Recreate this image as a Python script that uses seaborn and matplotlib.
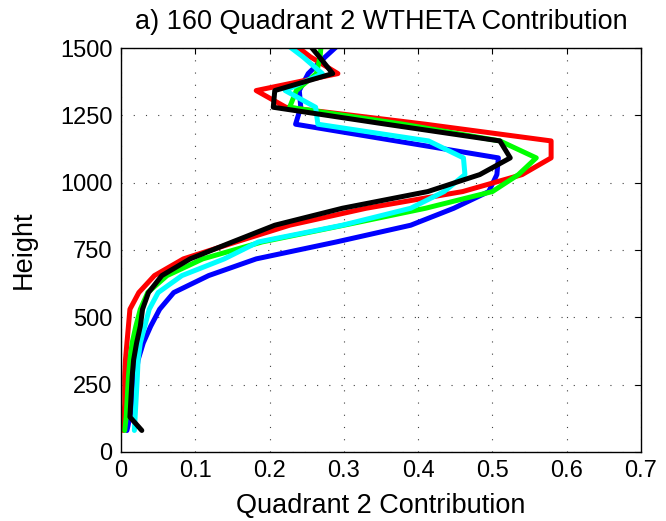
import numpy as np
import pandas as pd
import matplotlib
matplotlib.use("Agg")
import matplotlib.pyplot as plt
import seaborn as sns

# Height levels (m) shared by all profiles
heights = [80, 130, 180, 230, 280, 342, 405, 467, 530, 592, 655, 717, 780,
           842, 905, 967, 1030, 1092, 1155, 1217, 1280, 1342, 1405, 1467, 1530]

# Quadrant 2 contribution profiles, one per run
run_blue = [0.008, 0.012, 0.015, 0.018, 0.020, 0.023, 0.030, 0.040, 0.052, 0.071,
            0.118, 0.182, 0.290, 0.390, 0.448, 0.495, 0.506, 0.508, 0.370, 0.235,
            0.242, 0.240, 0.252, 0.275, 0.300]
run_red = [0.003, 0.004, 0.005, 0.005, 0.005, 0.006, 0.008, 0.010, 0.012, 0.024,
           0.045, 0.084, 0.155, 0.227, 0.330, 0.460, 0.540, 0.579, 0.579, 0.410,
           0.222, 0.182, 0.292, 0.255, 0.225]
run_green = [0.005, 0.007, 0.008, 0.009, 0.010, 0.012, 0.015, 0.020, 0.026, 0.036,
             0.062, 0.110, 0.190, 0.300, 0.410, 0.500, 0.535, 0.559, 0.510, 0.380,
             0.227, 0.236, 0.263, 0.268, 0.270]
run_cyan = [0.018, 0.019, 0.020, 0.021, 0.022, 0.023, 0.026, 0.032, 0.038, 0.050,
            0.082, 0.139, 0.185, 0.298, 0.390, 0.435, 0.463, 0.461, 0.414, 0.265,
            0.262, 0.221, 0.271, 0.245, 0.215]
run_black = [0.028, 0.012, 0.013, 0.014, 0.015, 0.017, 0.021, 0.026, 0.029, 0.037,
             0.055, 0.093, 0.150, 0.207, 0.298, 0.413, 0.483, 0.524, 0.510, 0.357,
             0.205, 0.207, 0.285, 0.267, 0.248]

runs = ["blue", "red", "green", "cyan", "black"]
profiles = [run_blue, run_red, run_green, run_cyan, run_black]
colors = ["#0000ff", "#ff0000", "#00ff00", "#00ffff", "#000000"]

frames = []
for name, vals in zip(runs, profiles):
    frames.append(pd.DataFrame({"run": name, "height": heights, "q2": vals}))
df = pd.concat(frames, ignore_index=True)

sns.set_style("white")
plt.rcParams["font.family"] = ["Liberation Sans", "DejaVu Sans"]
plt.rcParams["text.color"] = "black"
plt.rcParams["axes.labelcolor"] = "black"

fig = plt.figure(figsize=(6.66, 5.21), dpi=100)
ax = fig.add_axes([121 / 666, 1 - 452 / 521, 520 / 666, 404 / 521])

sns.lineplot(data=df, x="q2", y="height", hue="run", hue_order=runs,
             palette=dict(zip(runs, colors)), sort=False, estimator=None,
             orient="y", linewidth=3.6, legend=False, ax=ax)

ax.set_xlim(0, 0.7)
ax.set_ylim(0, 1500)
ax.set_xticks(np.arange(0, 0.71, 0.1))
ax.set_yticks(np.arange(0, 1501, 250))
ax.xaxis.set_major_formatter(matplotlib.ticker.FuncFormatter(
    lambda v, p: "0" if abs(v) < 1e-9 else f"{v:.1f}"))

ax.grid(True, color="0.25", linestyle=(0, (1, 10)), linewidth=0.8)
ax.tick_params(direction="in", length=4, width=0.8, top=True, right=True,
               labelsize=17, colors="black", pad=6)
for s in ax.spines.values():
    s.set_color("black")
    s.set_linewidth(1.0)

ax.set_title("a) 160 Quadrant 2 WTHETA Contribution", fontsize=19.5, pad=14,
             color="black")
ax.set_xlabel("Quadrant 2 Contribution", fontsize=19.5, labelpad=8, color="black")
ax.set_ylabel("Height", fontsize=19.5, labelpad=17, color="black")

fig.savefig("out.png", dpi=100)
